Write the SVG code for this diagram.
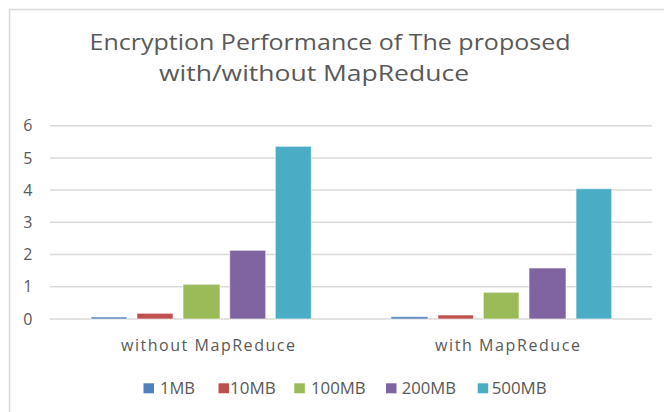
<svg xmlns="http://www.w3.org/2000/svg" width="664" height="412" viewBox="0 0 664 412">
  <style>
    .txt { font-family: "Open Sans", "Liberation Sans", sans-serif; fill: #595959; }
    .title { font-size: 22px; }
    .tick { font-size: 16px; text-anchor: end; }
    .cat { font-size: 16px; }
    .leg { font-size: 15.5px; }
    .grid { stroke: #d9d9d9; stroke-width: 1.5; fill: none; }
    .bar { stroke: #ffffff; stroke-opacity: 0.6; stroke-width: 1; }
    .s1 { fill: #4f81bd; }
    .s2 { fill: #c0504d; }
    .s3 { fill: #9bbb59; }
    .s4 { fill: #8064a2; }
    .s5 { fill: #4bacc6; }
  </style>

  <rect x="0" y="0" width="664" height="412" fill="#ffffff"/>
  <!-- chart frame (top and left edges) -->
  <path d="M9.5 412 V9.5 H664" stroke="#d9d9d9" stroke-width="1.5" fill="none"/>

  <!-- title -->
  <g id="title">
    <text class="txt title" x="89.5" y="49.5" textLength="481" lengthAdjust="spacingAndGlyphs">Encryption Performance of The proposed</text>
    <text class="txt title" x="159" y="80.5" textLength="310" lengthAdjust="spacingAndGlyphs">with/without MapReduce</text>
  </g>

  <!-- value axis gridlines and labels -->
  <g id="value-axis">
    <line class="grid" x1="50" y1="125.7" x2="652" y2="125.7"/>
    <line class="grid" x1="50" y1="158" x2="652" y2="158"/>
    <line class="grid" x1="50" y1="190" x2="652" y2="190"/>
    <line class="grid" x1="50" y1="222.3" x2="652" y2="222.3"/>
    <line class="grid" x1="50" y1="254.5" x2="652" y2="254.5"/>
    <line class="grid" x1="50" y1="286.8" x2="652" y2="286.8"/>
    <line class="grid" x1="50" y1="319" x2="652" y2="319"/>
    <text class="txt tick" x="32.5" y="131.2">6</text>
    <text class="txt tick" x="32.5" y="163.5">5</text>
    <text class="txt tick" x="32.5" y="195.5">4</text>
    <text class="txt tick" x="32.5" y="227.8">3</text>
    <text class="txt tick" x="32.5" y="260">2</text>
    <text class="txt tick" x="32.5" y="292.3">1</text>
    <text class="txt tick" x="32.5" y="324.5">0</text>
  </g>

  <!-- bars: without MapReduce -->
  <g id="group-without">
    <rect class="bar s1" x="91" y="317" width="36" height="2"/>
    <rect class="bar s2" x="137" y="313.3" width="36" height="5.7"/>
    <rect class="bar s3" x="183" y="284.3" width="37" height="34.7"/>
    <rect class="bar s4" x="229.7" y="250.3" width="36" height="68.7"/>
    <rect class="bar s5" x="275.3" y="146.3" width="36" height="172.7"/>
  </g>

  <!-- bars: with MapReduce -->
  <g id="group-with">
    <rect class="bar s1" x="391" y="316.7" width="37" height="2.3"/>
    <rect class="bar s2" x="438" y="315" width="35.5" height="4"/>
    <rect class="bar s3" x="483.3" y="292.3" width="35.7" height="26.7"/>
    <rect class="bar s4" x="529" y="268" width="37" height="51"/>
    <rect class="bar s5" x="576" y="188.7" width="35.7" height="130.3"/>
  </g>

  <!-- category labels -->
  <g id="category-axis">
    <text class="txt cat" x="121" y="351" textLength="174" lengthAdjust="spacing">without MapReduce</text>
    <text class="txt cat" x="435" y="351" textLength="145" lengthAdjust="spacing">with MapReduce</text>
  </g>

  <!-- legend -->
  <g id="legend">
    <rect class="s1" x="143.5" y="383.3" width="10.5" height="10"/>
    <text class="txt leg" x="160" y="393.5" textLength="35" lengthAdjust="spacingAndGlyphs">1MB</text>
    <rect class="s2" x="218.5" y="383.3" width="10.5" height="10"/>
    <text class="txt leg" x="230" y="393.5" textLength="45.7" lengthAdjust="spacingAndGlyphs">10MB</text>
    <rect class="s3" x="294.3" y="383.3" width="10.5" height="10"/>
    <text class="txt leg" x="311" y="393.5" textLength="54.7" lengthAdjust="spacingAndGlyphs">100MB</text>
    <rect class="s4" x="386" y="383.3" width="10.5" height="10"/>
    <text class="txt leg" x="401.7" y="393.5" textLength="54.3" lengthAdjust="spacingAndGlyphs">200MB</text>
    <rect class="s5" x="477.7" y="383.3" width="10.5" height="10"/>
    <text class="txt leg" x="491.7" y="393.5" textLength="55" lengthAdjust="spacingAndGlyphs">500MB</text>
  </g>
</svg>
